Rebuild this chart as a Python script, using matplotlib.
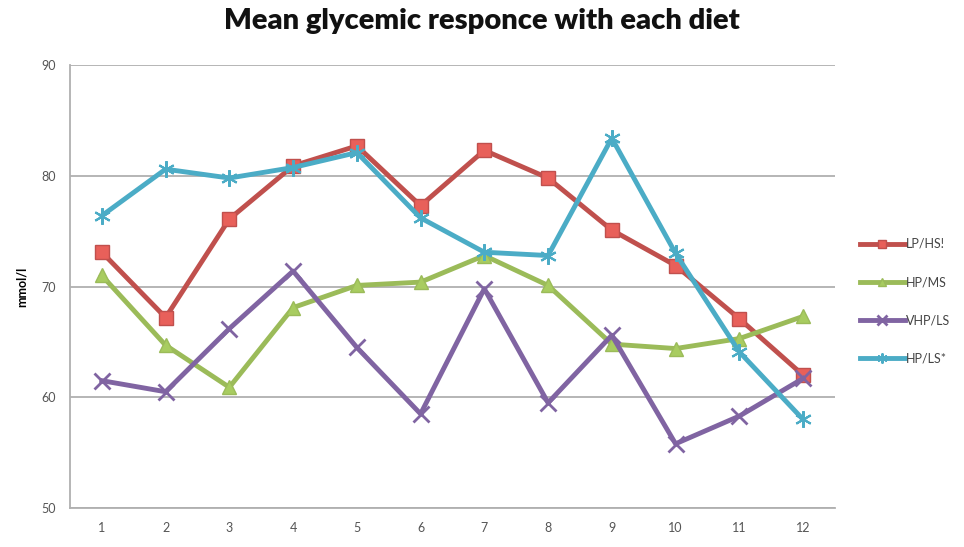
import matplotlib
matplotlib.use("Agg")
import matplotlib.pyplot as plt

plt.rcParams['font.family'] = ['Lato', 'DejaVu Sans']

weeks = list(range(1, 13))
lp_hs = [73.1, 67.2, 76.1, 80.9, 82.7, 77.3, 82.3, 79.8, 75.1, 71.9, 67.1, 62.0]
hp_ms = [71.0, 64.7, 60.9, 68.1, 70.1, 70.4, 72.8, 70.1, 64.8, 64.4, 65.3, 67.3]
vhp_ls = [61.5, 60.5, 66.2, 71.4, 64.5, 58.5, 69.8, 59.5, 65.6, 55.8, 58.3, 61.7]
hp_ls = [76.4, 80.6, 79.8, 80.75, 82.1, 76.2, 73.1, 72.8, 83.4, 73.0, 64.1, 58.0]
labels = ['LP/HS!', 'HP/MS', 'VHP/LS', 'HP/LS*']
yticks = [50, 60, 70, 80, 90]

fig = plt.figure(figsize=(9.64, 5.47), dpi=100)
ax = fig.add_axes([0.0726, 0.0713, 0.7935, 0.8097])

ax.plot(weeks, lp_hs, color='#C0504D', lw=3.5, marker='s', ms=10,
        mfc='#E8605A', mec='#C0504D', mew=1, label=labels[0])
ax.plot(weeks, hp_ms, color='#9BBB59', lw=3.5, marker='^', ms=10,
        mfc='#A8CC60', mec='#9BBB59', label=labels[1])
ax.plot(weeks, vhp_ls, color='#8064A2', lw=3.5, marker='x', ms=11,
        mew=2, label=labels[2])
ax.plot(weeks, hp_ls, color='#4BACC6', lw=3.5, marker=(6, 2, 0), ms=12,
        mew=1.5, label=labels[3])

ax.set_xlim(0.5, 12.5)
ax.set_ylim(50, 90)
ax.set_xticks(weeks)
ax.set_yticks(yticks)
ax.grid(axis='y', color='#B0B0B0', lw=1.3)
ax.set_axisbelow(True)
for s in ['top', 'right']:
    ax.spines[s].set_visible(False)
for s in ['left', 'bottom']:
    ax.spines[s].set_color('#B0B0B0')
    ax.spines[s].set_linewidth(1.3)
ax.tick_params(length=0, labelsize=9, colors='#555555', pad=10)

ax.set_ylabel('mmol/l', fontsize=9, fontweight='bold', labelpad=10)
fig.suptitle('Mean glycemic responce with each diet', fontsize=21,
             fontweight='heavy', x=0.5, y=0.985, color='#111111')

leg = fig.legend(loc='upper left', bbox_to_anchor=(0.892, 0.565),
                 frameon=False, fontsize=9, handlelength=3.6,
                 handletextpad=0.1, labelspacing=2.1, markerscale=0.6,
                 borderaxespad=0, borderpad=0)
for t in leg.get_texts():
    t.set_color('#444444')

fig.savefig('out.png', dpi=100)
